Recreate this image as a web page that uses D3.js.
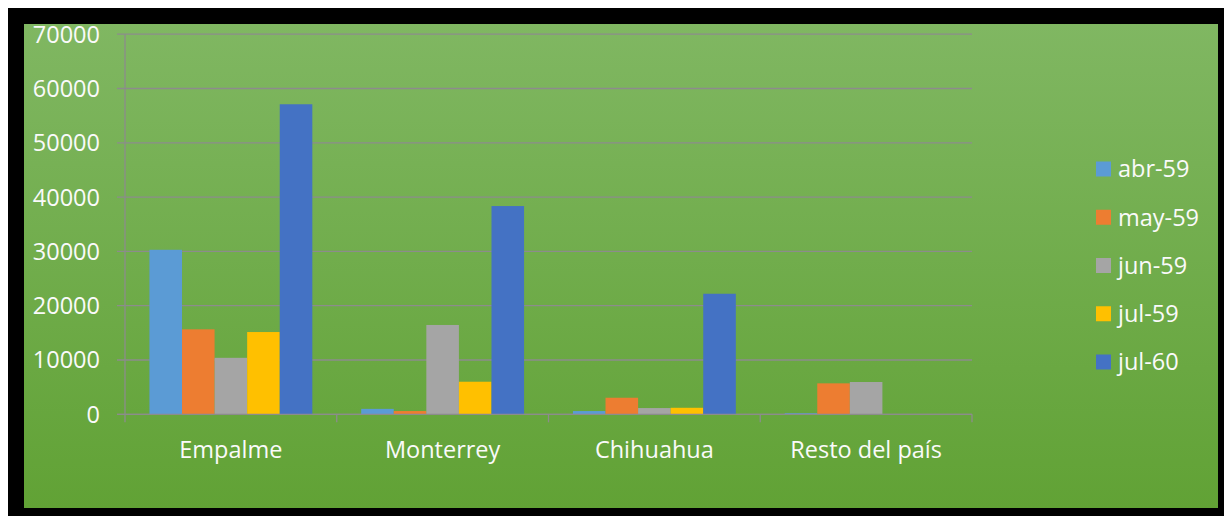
<!DOCTYPE html>
<html>
<head>
<meta charset="utf-8">
<script src="https://cdn.jsdelivr.net/npm/d3@7/dist/d3.min.js"></script>
<style>
  html, body { margin: 0; padding: 0; background: #ffffff; }
  svg { display: block; }
</style>
</head>
<body>
<svg id="chart" width="1224" height="516"></svg>
<script>
// Localidades y meses
const categories = ["Empalme", "Monterrey", "Chihuahua", "Resto del país"];
const seriesNames = ["abr-59", "may-59", "jun-59", "jul-59", "jul-60"];
const seriesColors = ["#5B9BD5", "#ED7D31", "#A5A5A5", "#FFC000", "#4472C4"];

// Valores por serie, en el orden de las categorías
const abr59 = [30300, 1000, 600, 200];
const may59 = [15650, 600, 3050, 5700];
const jun59 = [10400, 16450, 1150, 5950];
const jul59 = [15150, 6000, 1200, 0];
const jul60 = [57100, 38350, 22200, 0];
const seriesValues = [abr59, may59, jun59, jul59, jul60];

const yTicks = [0, 10000, 20000, 30000, 40000, 50000, 60000, 70000];

const svg = d3.select("#chart");
const W = 1224, H = 516;
const FONT = "'Open Sans', 'DejaVu Sans', sans-serif";
const FONT_SIZE = 23.5;
const TEXT = "#fafafa";
const GRID = "#8c8c8c";

// Fondo y marco
const defs = svg.append("defs");
const grad = defs.append("linearGradient").attr("id", "bg")
  .attr("x1", 0).attr("y1", 0).attr("x2", 0).attr("y2", 1);
grad.append("stop").attr("offset", "0%").attr("stop-color", "#80b762");
grad.append("stop").attr("offset", "100%").attr("stop-color", "#61a235");

svg.append("rect").attr("x", 8).attr("y", 8).attr("width", W - 8).attr("height", H - 8).attr("fill", "#000");
svg.append("rect").attr("x", 24).attr("y", 24).attr("width", 1218 - 24).attr("height", 508 - 24)
  .attr("fill", "url(#bg)");

// Escalas
const plotLeft = 125, plotRight = 972, plotTop = 34.2, plotBottom = 414.3;
const x0 = d3.scaleBand().domain(categories).range([plotLeft, plotRight]).paddingInner(0).paddingOuter(0);
const y = d3.scaleLinear().domain([0, 70000]).range([plotBottom, plotTop]);

// Ancho de hueco 150 %: cada barra ocupa 1/(5+1.5) de la categoría
const band = x0.bandwidth();
const gapFrac = 1.5 / (seriesNames.length + 1.5);
const x1 = d3.scaleBand().domain(seriesNames)
  .range([band * gapFrac / 2, band * (1 - gapFrac / 2)]).padding(0);

// Líneas de cuadrícula
svg.append("g").selectAll("line").data(yTicks).join("line")
  .attr("x1", plotLeft - 8).attr("x2", plotRight)
  .attr("y1", d => y(d)).attr("y2", d => y(d))
  .attr("stroke", GRID).attr("stroke-width", 1.3);

// Eje vertical
svg.append("line").attr("x1", plotLeft).attr("x2", plotLeft).attr("y1", plotTop).attr("y2", plotBottom + 8)
  .attr("stroke", GRID).attr("stroke-width", 1.3);

// Marcas entre categorías
const boundaries = categories.map(c => x0(c) + band);
svg.append("g").selectAll("line").data(boundaries).join("line")
  .attr("x1", d => d).attr("x2", d => d)
  .attr("y1", plotBottom).attr("y2", plotBottom + 8)
  .attr("stroke", GRID).attr("stroke-width", 1.3);

// Barras
const gBars = svg.append("g");
seriesNames.forEach((s, si) => {
  gBars.append("g").selectAll("rect").data(categories).join("rect")
    .attr("x", c => x0(c) + x1(s))
    .attr("width", x1.bandwidth())
    .attr("y", (c, i) => y(seriesValues[si][i]))
    .attr("height", (c, i) => plotBottom - y(seriesValues[si][i]))
    .attr("fill", seriesColors[si]);
});

// Línea base encima de las barras
svg.append("line").attr("x1", plotLeft - 8).attr("x2", plotRight).attr("y1", plotBottom).attr("y2", plotBottom)
  .attr("stroke", GRID).attr("stroke-width", 1.3);

// Etiquetas del eje Y
svg.append("g").selectAll("text").data(yTicks).join("text")
  .attr("x", 100).attr("y", d => y(d))
  .attr("dy", "0.36em")
  .attr("text-anchor", "end")
  .attr("font-family", FONT).attr("font-size", FONT_SIZE)
  .attr("fill", TEXT)
  .text(d => d);

// Etiquetas de categorías
svg.append("g").selectAll("text").data(categories).join("text")
  .attr("x", c => x0(c) + band / 2).attr("y", 458)
  .attr("text-anchor", "middle")
  .attr("font-family", FONT).attr("font-size", FONT_SIZE)
  .attr("fill", TEXT)
  .text(c => c);

// Leyenda
const legend = svg.append("g");
const legY = d3.scalePoint().domain(seriesNames).range([169, 362]);
seriesNames.forEach((s, i) => {
  legend.append("rect").attr("x", 1096).attr("y", legY(s) - 7.5)
    .attr("width", 15).attr("height", 15).attr("fill", seriesColors[i]);
  legend.append("text").attr("x", 1118).attr("y", legY(s))
    .attr("dy", "0.36em")
    .attr("font-family", FONT).attr("font-size", FONT_SIZE)
    .attr("fill", TEXT)
    .text(s);
});
</script>
</body>
</html>
